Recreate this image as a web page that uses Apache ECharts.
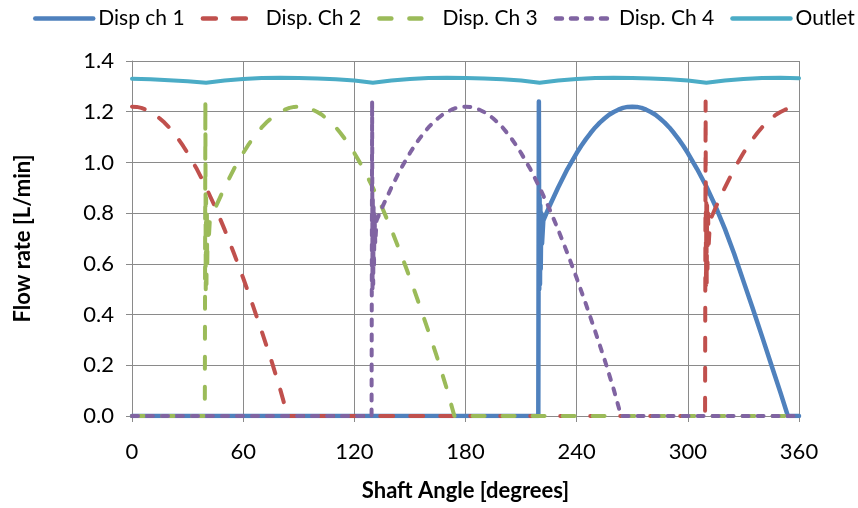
<!DOCTYPE html>
<html><head><meta charset="utf-8">
<script src="https://cdn.jsdelivr.net/npm/echarts@6/dist/echarts.min.js"></script>
<style>html,body{margin:0;padding:0;background:#fff}#c{width:858px;height:508px}</style>
</head><body><div id="c"></div>
<script>
const seriesNames = ['Disp ch 1', 'Disp. Ch 2', 'Disp. Ch 3', 'Disp. Ch 4', 'Outlet'];
const xTickStep = 60, xMax = 360, yTickStep = 0.2, yMax = 1.4;

const ch1Angle = [0, 219.3, 219.6, 219.8, 220.0, 220.2, 220.4, 220.6, 220.9, 221.3,
  222, 225, 230, 235, 240, 242.5, 245, 247.5, 250, 252.5, 255, 257.5, 260, 262.5, 265, 267.5, 270,
  272.5, 275, 277.5, 280, 282.5, 285, 287.5, 290, 292.5, 295, 297.5, 300, 305, 310, 315, 320, 325, 330, 335, 340, 345, 350, 354, 360];
const ch1Flow  = [0, 0, 1.24, 0.50, 0.86, 0.52, 0.83, 0.58, 0.80, 0.68,
  0.771, 0.822, 0.901, 0.974, 1.037, 1.066, 1.092, 1.116, 1.138, 1.157, 1.173, 1.188, 1.199, 1.208, 1.215, 1.219, 1.220,
  1.219, 1.215, 1.208, 1.199, 1.188, 1.173, 1.157, 1.138, 1.116, 1.092, 1.066, 1.037, 0.974, 0.905, 0.826, 0.738, 0.640, 0.532, 0.425, 0.315, 0.203, 0.092, 0, 0];

const ch2Angle = [0, 2.5, 5, 7.5, 10, 12.5, 15, 17.5, 20, 22.5, 25, 27.5, 30, 35, 40, 45, 50, 55, 60, 65, 70, 75, 80, 84,
  309.3, 309.6, 309.8, 310.0, 310.2, 310.4, 310.6, 310.9, 311.3,
  312, 315, 320, 325, 330, 332.5, 335, 337.5, 340, 342.5, 345, 347.5, 350, 352.5, 355, 357.5, 360];
const ch2Flow  = [1.220, 1.219, 1.215, 1.208, 1.199, 1.188, 1.173, 1.157, 1.138, 1.116, 1.092, 1.066, 1.037, 0.974, 0.901, 0.822, 0.735, 0.642, 0.544, 0.441, 0.334, 0.224, 0.105, 0,
  0, 1.24, 0.50, 0.86, 0.52, 0.83, 0.58, 0.80, 0.68,
  0.771, 0.822, 0.901, 0.974, 1.037, 1.066, 1.092, 1.116, 1.138, 1.157, 1.173, 1.188, 1.199, 1.208, 1.215, 1.219, 1.220];

const ch3Angle = [0, 39.3, 39.6, 39.8, 40.0, 40.2, 40.4, 40.6, 40.9, 41.3,
  42, 45, 50, 55, 60, 62.5, 65, 67.5, 70, 72.5, 75, 77.5, 80, 82.5, 85, 87.5, 90,
  92.5, 95, 97.5, 100, 102.5, 105, 107.5, 110, 112.5, 115, 117.5, 120, 125, 130, 135, 140, 145, 150, 155, 160, 165, 170, 174, 360];
const ch3Flow  = [0, 0, 1.24, 0.50, 0.86, 0.52, 0.83, 0.58, 0.80, 0.68,
  0.771, 0.822, 0.901, 0.974, 1.037, 1.066, 1.092, 1.116, 1.138, 1.157, 1.173, 1.188, 1.199, 1.208, 1.215, 1.219, 1.220,
  1.219, 1.215, 1.208, 1.199, 1.188, 1.173, 1.157, 1.138, 1.116, 1.092, 1.066, 1.037, 0.974, 0.901, 0.822, 0.735, 0.642, 0.544, 0.441, 0.334, 0.224, 0.105, 0, 0];

const ch4Angle = [0, 129.3, 129.6, 129.8, 130.0, 130.2, 130.4, 130.6, 130.9, 131.3,
  132, 135, 140, 145, 150, 152.5, 155, 157.5, 160, 162.5, 165, 167.5, 170, 172.5, 175, 177.5, 180,
  182.5, 185, 187.5, 190, 192.5, 195, 197.5, 200, 202.5, 205, 207.5, 210, 215, 220, 225, 230, 235, 240, 245, 250, 255, 260, 264, 360];
const ch4Flow  = [0, 0, 1.24, 0.50, 0.86, 0.52, 0.83, 0.58, 0.80, 0.68,
  0.771, 0.822, 0.901, 0.974, 1.037, 1.066, 1.092, 1.116, 1.138, 1.157, 1.173, 1.188, 1.199, 1.208, 1.215, 1.219, 1.220,
  1.219, 1.215, 1.208, 1.199, 1.188, 1.173, 1.157, 1.138, 1.116, 1.092, 1.066, 1.037, 0.974, 0.901, 0.822, 0.735, 0.642, 0.544, 0.441, 0.334, 0.224, 0.105, 0, 0];

const outletAngle = [0, 10, 20, 30, 40, 50, 60, 70, 80, 90, 100, 110, 120, 130, 140, 150, 160, 170, 180, 190, 200, 210, 220, 230, 240, 250, 260, 270, 280, 290, 300, 310, 320, 330, 340, 350, 360];
const outletFlow  = [1.330, 1.328, 1.324, 1.320, 1.314, 1.323, 1.329, 1.333, 1.334, 1.333, 1.331, 1.328, 1.323, 1.314, 1.323, 1.329, 1.333, 1.334, 1.333, 1.331, 1.328, 1.323, 1.314, 1.323, 1.329, 1.333, 1.334, 1.333, 1.331, 1.328, 1.323, 1.314, 1.323, 1.329, 1.333, 1.334, 1.332];

const colors = ['#4F81BD', '#C0504D', '#9BBB59', '#8064A2', '#4BACC6'];
const zip = (a, b) => a.map((v, i) => [v, b[i]]);
const FONT = 'Lato';
const gridColor = '#8a8a8a';

function lineSeries(name, data, color, width, dash) {
  return {
    name, type: 'line', data, symbol: 'none', showSymbol: false,
    lineStyle: { color, width, type: dash, cap: 'round', join: 'round' },
    itemStyle: { color },
    animation: false
  };
}

const chart = echarts.init(document.getElementById('c'), null, { renderer: 'canvas' });
chart.setOption({
  animation: false,
  backgroundColor: '#fff',
  legend: {
    data: seriesNames,
    left: 33, top: 8, padding: 0,
    itemWidth: 58, itemHeight: 18, itemGap: 16,
    itemStyle: { opacity: 0 },
    lineStyle: { width: 4.5 },
    textStyle: { fontFamily: FONT, fontSize: 21, color: '#000' }
  },
  grid: { left: 132, right: 59, top: 61, bottom: 92, containLabel: false },
  xAxis: {
    type: 'value', min: 0, max: xMax, interval: xTickStep,
    name: 'Shaft Angle [degrees]', nameLocation: 'middle', nameGap: 64,
    nameTextStyle: { fontFamily: FONT, fontSize: 22, fontWeight: 'bold', color: '#000' },
    axisLine: { show: true, lineStyle: { color: gridColor, width: 1 } },
    axisTick: { show: true, inside: false, length: 6, lineStyle: { color: gridColor } },
    axisLabel: { fontFamily: FONT, fontSize: 22, color: '#000', margin: 25 },
    splitLine: { show: true, lineStyle: { color: gridColor, width: 1 } }
  },
  yAxis: {
    type: 'value', min: 0, max: yMax, interval: yTickStep,
    name: 'Flow rate [L/min]', nameLocation: 'middle', nameGap: 98,
    nameTextStyle: { fontFamily: FONT, fontSize: 22, fontWeight: 'bold', color: '#000' },
    axisLine: { show: true, lineStyle: { color: gridColor, width: 1 } },
    axisTick: { show: true, inside: false, length: 6, lineStyle: { color: gridColor } },
    axisLabel: { fontFamily: FONT, fontSize: 22, color: '#000', margin: 18, formatter: v => v.toFixed(1) },
    splitLine: { show: true, lineStyle: { color: gridColor, width: 1 } }
  },
  series: [
    lineSeries(seriesNames[0], zip(ch1Angle, ch1Flow), colors[0], 4.5, 'solid'),
    lineSeries(seriesNames[1], zip(ch2Angle, ch2Flow), colors[1], 4, [13, 17]),
    lineSeries(seriesNames[2], zip(ch3Angle, ch3Flow), colors[2], 4, [12, 18]),
    lineSeries(seriesNames[3], zip(ch4Angle, ch4Flow), colors[3], 4, [6, 9]),
    lineSeries(seriesNames[4], zip(outletAngle, outletFlow), colors[4], 4, 'solid')
  ]
});
</script>
</body></html>
